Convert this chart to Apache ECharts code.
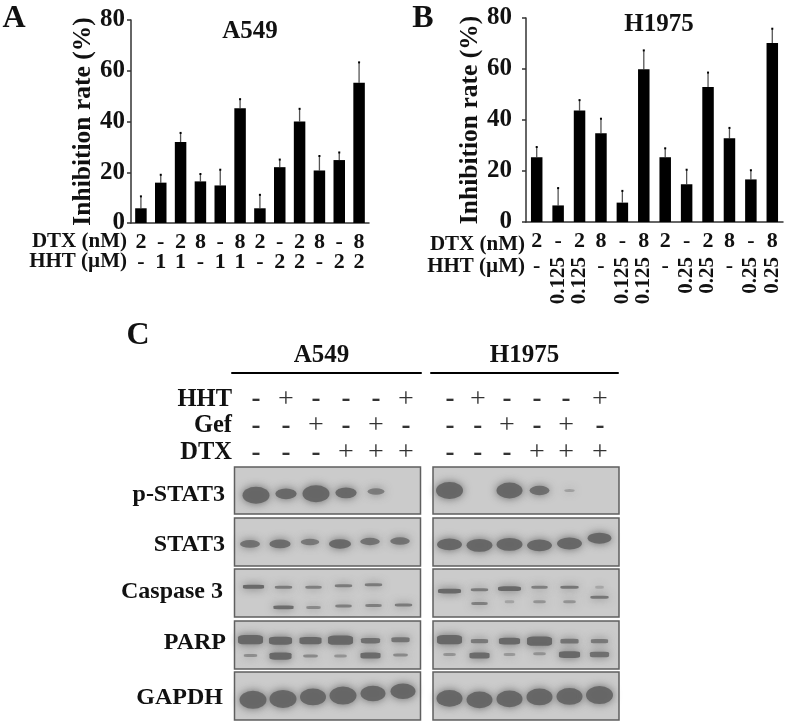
<!DOCTYPE html>
<html>
<head>
<meta charset="utf-8">
<title>Inhibition rate and western blots</title>
<style>
  html, body { margin: 0; padding: 0; background: #fff; }
  #main { width: 787px; height: 724px; }
</style>
<script src="https://cdn.jsdelivr.net/npm/echarts@6/dist/echarts.min.js"></script>
</head>
<body>
<div id="main"></div>
<script>
// panel A
const dtxA = ["2", "-", "2", "8", "-", "8", "2", "-", "2", "8", "-", "8"];
const hhtA = ["-", "1", "1", "-", "1", "1", "-", "2", "2", "-", "2", "2"];
const rateA = [5.8, 15.9, 31.9, 16.4, 14.8, 45.2, 5.8, 22, 40, 20.7, 24.8, 55.3];
const rateAUpper = [10.5, 19, 35.5, 19.3, 21, 48.8, 11.1, 25, 45, 26.4, 27.8, 63.3];

// panel B
const dtxB = ["2", "-", "2", "8", "-", "8", "2", "-", "2", "8", "-", "8"];
const hhtBDash = ["-", "", "", "-", "", "", "-", "", "", "-", "", ""];
const hhtBDose = ["", "0.125", "0.125", "", "0.125", "0.125", "", "0.25", "0.25", "", "0.25", "0.25"];
const rateB = [25.4, 6.5, 43.7, 34.8, 7.6, 59.9, 25.4, 14.8, 52.9, 32.8, 16.7, 70.2];
const rateBUpper = [29.4, 13.3, 47.8, 40.5, 12.2, 67.3, 28.9, 20.5, 58.6, 36.9, 20.3, 75.8];
const yTicks = [0, 80];

// panel C treatments
const rowNames = ["HHT", "Gef", "DTX"];
const hhtMarks = ["-", "+", "-", "-", "-", "+"];
const gefMarks = ["-", "-", "+", "-", "+", "-"];
const dtxMarks = ["-", "-", "-", "+", "+", "+"];
const lanesA549 = [0, 1, 2, 3, 4, 5];
const lanesH1975 = [0, 0.93, 1.9, 2.9, 3.87, 5];

// band strength (0-1) and height in the membrane (0 top, 1 bottom), per lane
const pStat3A = [1, 0.72, 1, 0.72, 0.5, 0];
const pStat3AY = [0.6, 0.57, 0.57, 0.55, 0.52, 0.5];
const stat3A = [0.62, 0.68, 0.55, 0.72, 0.6, 0.6];
const stat3AY = [0.54, 0.54, 0.5, 0.54, 0.49, 0.48];
const casp3A = [0.75, 0.55, 0.5, 0.55, 0.55, 0];
const casp3AY = [0.37, 0.38, 0.38, 0.35, 0.33, 0.33];
const cleavedA = [0, 0.7, 0.4, 0.5, 0.5, 0.55];
const cleavedAY = [0.8, 0.8, 0.8, 0.77, 0.76, 0.75];
const parpA = [0.95, 0.85, 0.8, 0.95, 0.65, 0.6];
const parpAY = [0.39, 0.41, 0.41, 0.4, 0.41, 0.39];
const parpLowA = [0.35, 0.8, 0.4, 0.3, 0.7, 0.4];
const parpLowAY = [0.72, 0.73, 0.73, 0.73, 0.72, 0.71];
const gapdhA = [1, 1, 0.95, 1, 0.9, 0.9];
const gapdhAY = [0.58, 0.56, 0.52, 0.49, 0.45, 0.4];

const pStat3H = [1, 0, 0.95, 0.65, 0.18, 0];
const pStat3HY = [0.5, 0.5, 0.5, 0.5, 0.5, 0.5];
const stat3H = [0.85, 0.9, 0.9, 0.85, 0.85, 0.8];
const stat3HY = [0.55, 0.57, 0.55, 0.57, 0.53, 0.42];
const casp3H = [0.85, 0.55, 0.85, 0.5, 0.6, 0.1];
const casp3HY = [0.46, 0.43, 0.41, 0.38, 0.38, 0.38];
const cleavedH = [0, 0.5, 0.15, 0.3, 0.3, 0.6];
const cleavedHY = [0.72, 0.72, 0.68, 0.68, 0.68, 0.59];
const parpH = [0.95, 0.55, 0.75, 0.95, 0.6, 0.55];
const parpHY = [0.39, 0.42, 0.42, 0.42, 0.42, 0.42];
const parpLowH = [0.3, 0.7, 0.25, 0.3, 0.75, 0.65];
const parpLowHY = [0.7, 0.72, 0.7, 0.68, 0.7, 0.7];
const gapdhH = [0.95, 0.95, 0.95, 0.95, 0.95, 1];
const gapdhHY = [0.55, 0.58, 0.56, 0.52, 0.51, 0.48];

const serif = '"Liberation Serif", "Times New Roman", serif';
const ink = "#111";
const grids = [];
const xAxes = [];
const yAxes = [];
const series = [];

function labelAxis(gridIndex, data, margin, rotate) {
  xAxes.push({
    type: "category",
    gridIndex: gridIndex,
    position: "bottom",
    data: data,
    axisLine: { show: false },
    axisTick: { show: false },
    axisLabel: {
      interval: 0,
      margin: margin,
      rotate: rotate || 0,
      color: ink,
      fontFamily: serif,
      fontWeight: "bold",
      fontSize: rotate ? 21 : 22,
    },
  });
}

function barChart(box, dtx, rate, upper, labelMargin, nameGap, extraAxes) {
  const g = grids.length;
  grids.push(Object.assign({ outerBoundsMode: "none" }, box));
  const x = xAxes.length;
  xAxes.push({
    type: "category",
    gridIndex: g,
    position: "bottom",
    data: dtx,
    axisLine: { lineStyle: { color: "#333", width: 1.5 } },
    axisTick: { length: 5, lineStyle: { color: "#333", width: 1.5 } },
    axisLabel: {
      interval: 0,
      margin: 8,
      color: ink,
      fontFamily: serif,
      fontWeight: "bold",
      fontSize: 22,
    },
  });
  const y = yAxes.length;
  yAxes.push({
    type: "value",
    gridIndex: g,
    min: yTicks[0],
    max: yTicks[1],
    interval: 20,
    name: "Inhibition rate (%)",
    nameLocation: "middle",
    nameGap: nameGap,
    nameTextStyle: { color: ink, fontFamily: serif, fontWeight: "bold", fontSize: 25.5 },
    splitLine: { show: false },
    axisLine: { show: true, lineStyle: { color: "#333", width: 1.5 } },
    axisTick: { show: true, length: 4, lineStyle: { color: "#333", width: 1.5 } },
    axisLabel: { margin: labelMargin, color: ink, fontFamily: serif, fontWeight: "bold", fontSize: 25 },
  });
  series.push({
    type: "bar",
    xAxisIndex: x,
    yAxisIndex: y,
    barWidth: 11.5,
    itemStyle: { color: "#000" },
    data: rate,
  });
  // error bars, upper side only
  series.push({
    type: "custom",
    xAxisIndex: x,
    yAxisIndex: y,
    data: rate.map((v, i) => [i, v, upper[i]]),
    encode: { x: 0, y: [1, 2] },
    renderItem: (params, api) => {
      const from = api.coord([api.value(0), api.value(1)]);
      const to = api.coord([api.value(0), api.value(2)]);
      return {
        type: "group",
        children: [
          {
            type: "line",
            shape: { x1: from[0], y1: from[1], x2: to[0], y2: to[1] },
            style: { stroke: "#555", lineWidth: 1.3 },
          },
          {
            type: "rect",
            shape: { x: to[0] - 1, y: to[1] - 1, width: 2, height: 2 },
            style: { fill: "#000" },
          },
        ],
      };
    },
  });
  extraAxes(g);
}

barChart({ left: 131, top: 20, width: 238, height: 203 }, dtxA, rateA, rateAUpper, 6, 31, (g) => {
  labelAxis(g, hhtA, 28);
});
barChart({ left: 526, top: 18, width: 257, height: 204 }, dtxB, rateB, rateBUpper, 14, 37, (g) => {
  labelAxis(g, hhtBDash, 33);
  labelAxis(g, hhtBDose, 35, 90);
});

function treatments(box, lanes, minX, maxX, name, namePadding, showRows) {
  const g = grids.length;
  grids.push(Object.assign({ outerBoundsMode: "none" }, box));
  const x = xAxes.length;
  xAxes.push({
    type: "value",
    gridIndex: g,
    min: minX,
    max: maxX,
    position: "top",
    offset: 13,
    name: name,
    nameLocation: "middle",
    nameGap: 5,
    nameTextStyle: { color: ink, fontFamily: serif, fontWeight: "bold", fontSize: 25, padding: namePadding },
    splitLine: { show: false },
    axisLine: { show: true, onZero: false, lineStyle: { color: "#000", width: 2 } },
    axisTick: { show: false },
    axisLabel: { show: false },
  });
  const y = yAxes.length;
  yAxes.push({
    type: "category",
    gridIndex: g,
    inverse: true,
    data: rowNames,
    axisLine: { show: false },
    axisTick: { show: false },
    axisLabel: {
      show: showRows,
      interval: 0,
      margin: 0,
      color: ink,
      fontFamily: serif,
      fontWeight: "bold",
      fontSize: 24.5,
    },
  });
  const rows = [hhtMarks, gefMarks, dtxMarks];
  const data = [];
  rows.forEach((marks, r) => {
    marks.forEach((m, i) => {
      data.push({
        value: [lanes[i], rowNames[r], m],
        label: { fontWeight: m === "+" ? "normal" : "bold", fontSize: m === "+" ? 28 : 27 },
      });
    });
  });
  series.push({
    type: "scatter",
    xAxisIndex: x,
    yAxisIndex: y,
    symbolSize: 1,
    itemStyle: { color: "transparent" },
    label: {
      show: true,
      position: "inside",
      color: "#000",
      fontFamily: serif,
      formatter: (p) => p.value[2],
    },
    data: data,
  });
}

treatments({ left: 232, top: 386, width: 189, height: 80 }, lanesA549, -0.8, 5.5, "A549", [0, 10, 0, 0], true);
treatments({ left: 431, top: 386, width: 187, height: 80 }, lanesH1975, -0.63, 5.6, "H1975", [0, 0, 0, 0], false);

// each blot is its own small grid, the lane axis is shifted per membrane
function blot(box, firstLane, bandWidth, bandHeight, symbol, bands) {
  const g = grids.length;
  grids.push(Object.assign({
    show: true,
    outerBoundsMode: "none",
    backgroundColor: "#cbcbcb",
    borderColor: "#5f5f5f",
    borderWidth: 1.5,
  }, box));
  const x = xAxes.length;
  xAxes.push({
    type: "value",
    gridIndex: g,
    show: false,
    min: (box.left - firstLane) / 30,
    max: (box.left + box.width - firstLane) / 30,
  });
  const y = yAxes.length;
  yAxes.push({
    type: "value",
    gridIndex: g,
    show: false,
    inverse: true,
    min: 0,
    max: 1,
  });
  bands.forEach((band) => {
    series.push({
      type: "scatter",
      xAxisIndex: x,
      yAxisIndex: y,
      symbol: symbol,
      symbolSize: (v) => [
        bandWidth * (0.25 + 0.75 * v[2]),
        Math.max(3, bandHeight * Math.pow(v[2], 1.4)),
      ],
      data: band[0]
        .map((v, i) => ({
          value: [i, band[1][i], v],
          itemStyle: {
            color: "#656565",
            opacity: Math.min(0.95, 0.2 + v * 1.0),
            shadowBlur: 9,
            shadowColor: "#656565",
          },
        }))
        .filter((d) => d.value[2] > 0),
    });
  });
}

const blotRows = [
  { top: 467, height: 47, label: "p-STAT3", right: 225, labelTop: 483, w: 27, h: 17, symbol: "circle", a: [[pStat3A, pStat3AY]], h1: [[pStat3H, pStat3HY]], cA: 256 },
  { top: 518, height: 48, label: "STAT3", right: 225, labelTop: 533, w: 28, h: 15, symbol: "circle", a: [[stat3A, stat3AY]], h1: [[stat3H, stat3HY]], cA: 250 },
  { top: 569, height: 48, label: "Caspase 3", right: 223, labelTop: 580, w: 26, h: 6, symbol: "roundRect", a: [[casp3A, casp3AY], [cleavedA, cleavedAY]], h1: [[casp3H, casp3HY], [cleavedH, cleavedHY]], cA: 253.5 },
  { top: 621, height: 48, label: "PARP", right: 226, labelTop: 631, w: 26, h: 10, symbol: "roundRect", a: [[parpA, parpAY], [parpLowA, parpLowAY]], h1: [[parpH, parpHY], [parpLowH, parpLowHY]], cA: 250.5 },
  { top: 672, height: 48, label: "GAPDH", right: 223, labelTop: 686, w: 27, h: 18, symbol: "circle", a: [[gapdhA, gapdhAY]], h1: [[gapdhH, gapdhHY]], cA: 253 },
];

blotRows.forEach((r) => {
  blot({ left: 234.5, top: r.top, width: 186, height: r.height }, r.cA, r.w, r.h, r.symbol, r.a);
  blot({ left: 433, top: r.top, width: 186, height: r.height }, 449.5, r.w, r.h, r.symbol, r.h1);
});

const titleText = (text, left, top, fontSize) => ({
  text: text,
  left: left,
  top: top,
  textAlign: "center",
  padding: 0,
  textStyle: { color: ink, fontFamily: serif, fontWeight: "bold", fontSize: fontSize },
});

const rowTitle = (text, right, top, fontSize) => ({
  text: text,
  right: 787 - right,
  top: top,
  padding: 0,
  textStyle: { color: ink, fontFamily: serif, fontWeight: "bold", fontSize: fontSize },
});

const chart = echarts.init(document.getElementById("main"));
chart.setOption({
  animation: false,
  backgroundColor: "#fff",
  title: [
    titleText("A", 14, 3, 32),
    titleText("B", 423, 3, 32),
    titleText("C", 138, 320, 32),
    titleText("A549", 250, 19, 25),
    titleText("H1975", 659, 12, 25),
    rowTitle("DTX (nM)", 127, 231, 21),
    rowTitle("HHT (µM)", 127, 251, 21),
    rowTitle("DTX (nM)", 525, 234, 21),
    rowTitle("HHT (µM)", 525, 256, 21),
  ].concat(blotRows.map((r) => rowTitle(r.label, r.right, r.labelTop, 24))),
  grid: grids,
  xAxis: xAxes,
  yAxis: yAxes,
  series: series,
});
</script>
</body>
</html>
